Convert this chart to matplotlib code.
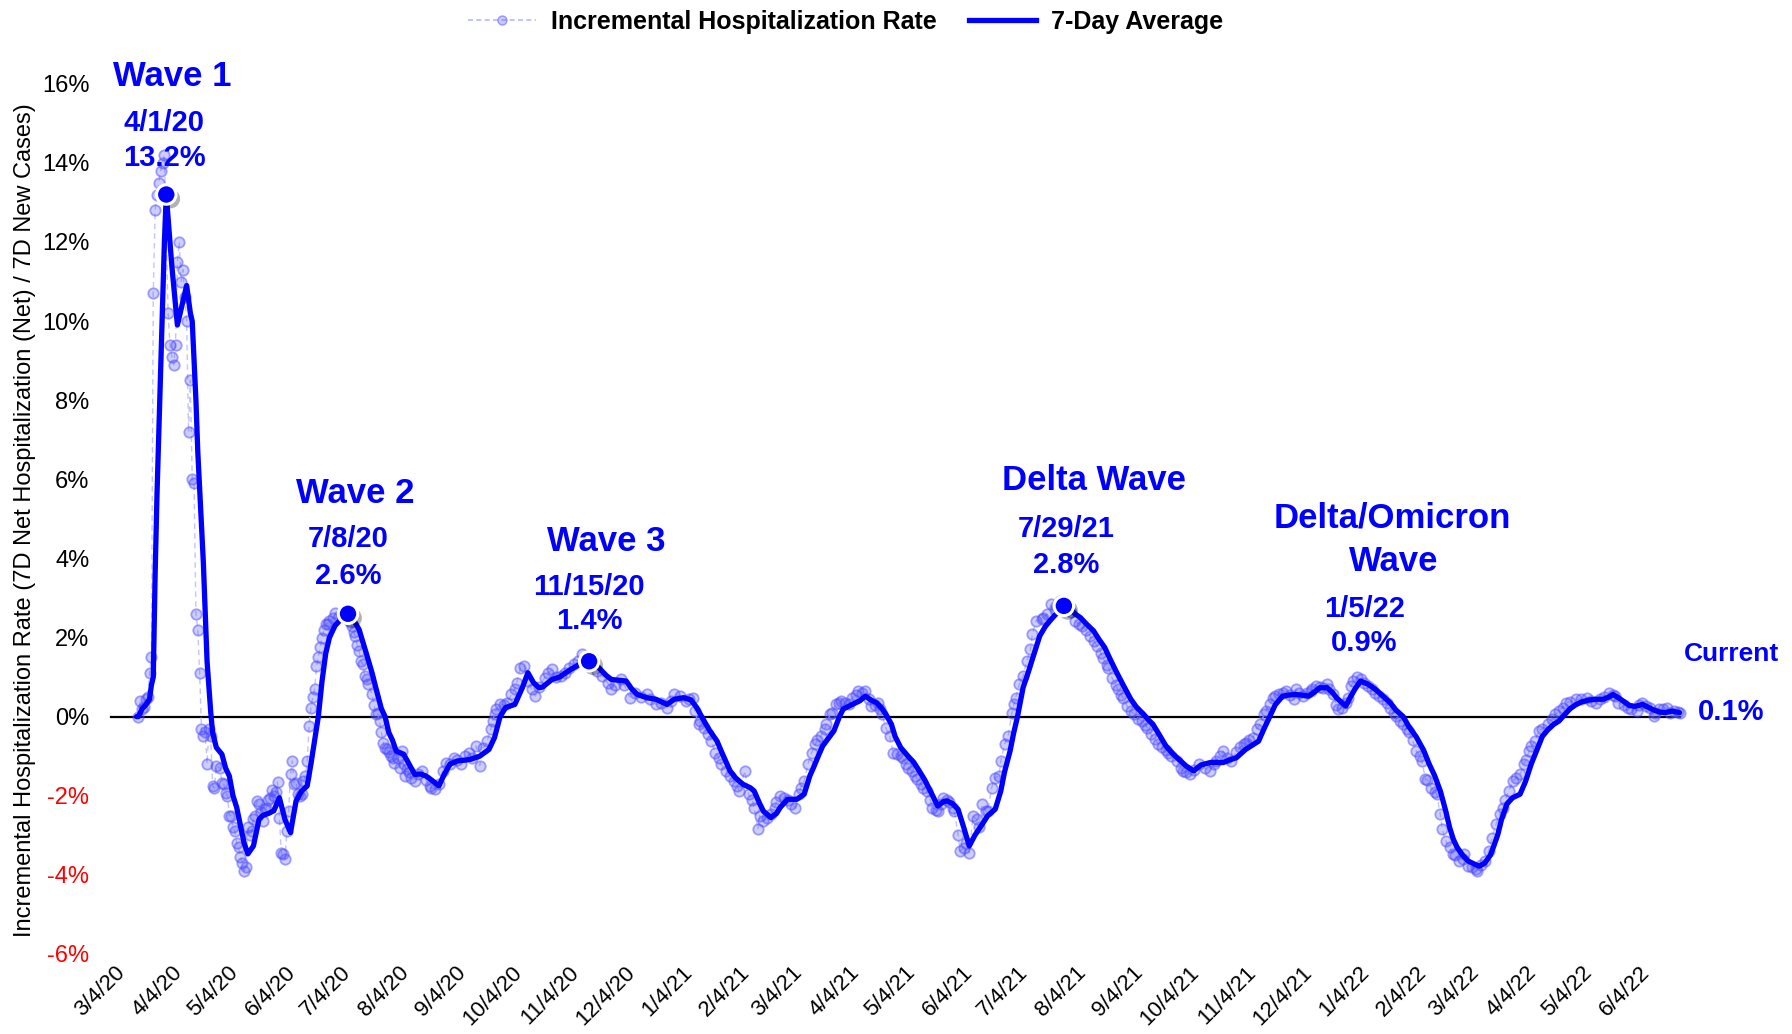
import matplotlib
matplotlib.use("Agg")
import matplotlib.pyplot as plt
import matplotlib.patheffects as pe
from matplotlib import font_manager
from matplotlib.lines import Line2D
import pandas as pd

# ---------------- data ----------------
START = "2020-03-04"

# 7-day average: days since 3/4/20 and value in %
avg_days = [12, 13, 15, 17, 19, 20, 21, 22, 23, 24, 25, 26, 27, 28, 31, 34, 37, 39, 41, 42, 44, 45,
            47, 48, 50, 52, 53, 55, 58, 60, 62, 64, 66, 68, 70, 72, 75, 78, 80, 83, 86, 89, 92, 95,
            98, 101, 104, 106, 108, 110, 112, 114, 116, 119, 122, 126, 129, 132, 136, 139, 141, 144,
            146, 148, 150, 152, 156, 158, 162, 165, 168, 171, 175, 178, 181, 185, 189, 192, 197, 200,
            202, 205, 208, 211, 216, 220, 223, 226, 229, 231, 236, 240, 245, 250, 256, 259, 262, 265,
            268, 272, 276, 279, 282, 287, 292, 298, 302, 307, 311, 314, 318, 321, 325, 328, 332, 335,
            339, 343, 345, 348, 350, 354, 357, 359, 363, 368, 372, 375, 377, 380, 382, 385, 388, 391,
            393, 398, 402, 405, 408, 411, 414, 416, 419, 421, 424, 428, 431, 434, 437, 440, 444, 447,
            449, 452, 455, 458, 461, 464, 468, 471, 475, 478, 480, 483, 485, 487, 490, 493, 495, 499,
            502, 505, 510, 512, 515, 518, 521, 524, 528, 531, 534, 537, 540, 544, 548, 551, 555, 558,
            560, 564, 567, 571, 575, 578, 582, 586, 591, 598, 601, 605, 610, 617, 620, 623, 626, 630,
            634, 637, 641, 644, 647, 650, 654, 657, 659, 662, 664, 666, 669, 672, 676, 680, 684, 688,
            691, 695, 698, 702, 706, 709, 712, 715, 718, 720, 722, 724, 727, 730, 733, 736, 739, 742,
            744, 746, 748, 751, 754, 758, 761, 764, 767, 770, 773, 776, 779, 782, 785, 788, 791, 795,
            799, 803, 806, 808, 811, 814, 817, 820, 824, 827, 830, 833, 836, 840, 844]
avg_vals = [0.0, 0.0, 0.2, 0.3, 0.45, 0.8, 1.0, 3.6, 5.6, 7.2, 8.8, 10.4, 12.0, 13.2, 11.4, 9.9, 10.5,
            10.9, 10.2, 10.0, 8.0, 6.7, 4.8, 3.9, 1.4, 0.1, -0.4, -0.78, -0.95, -1.3, -1.5, -2.0, -2.3,
            -2.75, -3.2, -3.47, -3.27, -2.6, -2.5, -2.45, -2.38, -2.05, -2.6, -2.93, -2.13, -1.88,
            -1.75, -1.2, -0.6, 0.0, 0.9, 1.6, 2.0, 2.3, 2.45, 2.6, 2.45, 2.2, 1.58, 1.1, 0.73, 0.2,
            0.0, -0.4, -0.6, -0.87, -0.95, -1.12, -1.46, -1.45, -1.5, -1.6, -1.75, -1.45, -1.2, -1.12,
            -1.1, -1.08, -1.0, -0.9, -0.83, -0.53, 0.0, 0.23, 0.31, 0.73, 1.11, 0.86, 0.73, 0.75, 0.94,
            1.0, 1.16, 1.3, 1.45, 1.35, 1.2, 1.05, 0.94, 0.92, 0.9, 0.7, 0.56, 0.48, 0.44, 0.31, 0.44,
            0.48, 0.42, 0.23, -0.11, -0.35, -0.62, -0.95, -1.37, -1.55, -1.71, -1.8, -1.88, -2.2,
            -2.39, -2.55, -2.45, -2.3, -2.09, -2.09, -1.96, -1.5, -1.29, -0.95, -0.74, -0.55, -0.36,
            0.0, 0.19, 0.31, 0.4, 0.52, 0.42, 0.35, 0.2, 0.06, -0.19, -0.5, -0.78, -1.0, -1.15, -1.37,
            -1.6, -1.88, -2.26, -2.15, -2.13, -2.2, -2.35, -2.8, -3.27, -3.0, -2.72, -2.5, -2.34,
            -1.88, -1.4, -0.87, -0.4, 0.0, 0.73, 1.15, 1.45, 2.04, 2.28, 2.45, 2.71, 2.8, 2.75, 2.6,
            2.5, 2.35, 2.17, 1.95, 1.75, 1.45, 1.16, 0.8, 0.45, 0.25, 0.06, -0.1, -0.19, -0.5, -0.74,
            -0.95, -1.12, -1.25, -1.37, -1.22, -1.16, -1.16, -1.1, -1.04, -0.83, -0.62, -0.3, 0.0, 0.3,
            0.52, 0.55, 0.56, 0.54, 0.52, 0.62, 0.73, 0.73, 0.6, 0.48, 0.35, 0.27, 0.45, 0.7, 0.9,
            0.82, 0.69, 0.52, 0.35, 0.17, 0.0, -0.25, -0.51, -0.85, -1.2, -1.5, -1.88, -2.4, -2.8,
            -3.1, -3.3, -3.5, -3.65, -3.72, -3.78, -3.7, -3.5, -3.25, -2.98, -2.6, -2.2, -2.05, -1.96,
            -1.63, -1.2, -0.85, -0.5, -0.33, -0.2, -0.11, 0.05, 0.2, 0.3, 0.37, 0.42, 0.44, 0.44, 0.5,
            0.56, 0.48, 0.38, 0.28, 0.26, 0.31, 0.24, 0.17, 0.12, 0.1, 0.14, 0.1]

# daily incremental hospitalization rate: days since 3/4/20 and value in %
daily_days = [13, 14, 15, 16, 17, 18, 19, 20, 21, 22, 23, 24, 25, 26, 27, 29, 30, 31, 32, 33, 34, 35,
              36, 37, 38, 39, 40, 41, 42, 43, 44, 45, 46, 47, 48, 49, 50, 51, 52, 53, 54, 55, 57, 58,
              59, 60, 61, 62, 63, 64, 65, 66, 67, 68, 69, 70, 71, 72, 73, 74, 75, 76, 77, 78, 79, 80,
              81, 82, 83, 84, 85, 86, 87, 88, 89, 90, 91, 92, 93, 94, 95, 96, 97, 98, 99, 100, 101,
              102, 103, 104, 105, 106, 107, 108, 109, 110, 111, 112, 113, 114, 115, 116, 118, 119,
              121, 123, 125, 127, 128, 129, 130, 131, 132, 133, 134, 135, 136, 137, 139, 140, 141,
              142, 143, 144, 145, 146, 147, 148, 149, 150, 151, 153, 154, 155, 156, 157, 158, 159,
              160, 162, 164, 166, 168, 170, 171, 173, 175, 177, 179, 181, 183, 185, 187, 189, 191,
              193, 195, 197, 199, 201, 203, 204, 205, 206, 208, 210, 212, 214, 216, 217, 219, 221,
              223, 225, 227, 229, 232, 234, 236, 238, 241, 243, 245, 248, 250, 252, 255, 258, 260,
              263, 266, 268, 270, 273, 275, 278, 281, 284, 287, 289, 292, 295, 298, 300, 302, 305,
              308, 310, 312, 313, 315, 316, 318, 320, 322, 324, 326, 327, 330, 332, 334, 336, 337,
              340, 342, 344, 345, 347, 348, 350, 352, 354, 356, 357, 359, 361, 363, 365, 367, 369,
              370, 372, 374, 376, 378, 379, 381, 383, 384, 386, 387, 389, 391, 392, 394, 396, 398,
              400, 401, 403, 405, 407, 408, 410, 412, 413, 414, 416, 418, 420, 422, 424, 425, 427,
              428, 430, 432, 433, 435, 436, 438, 440, 441, 443, 444, 446, 447, 449, 450, 452, 453,
              455, 456, 458, 459, 461, 463, 465, 466, 468, 470, 471, 473, 475, 477, 478, 480, 482,
              484, 485, 486, 488, 490, 492, 494, 495, 497, 500, 501, 503, 505, 507, 508, 510, 512,
              514, 516, 518, 520, 522, 524, 526, 528, 530, 532, 533, 535, 536, 538, 540, 541, 543,
              544, 546, 548, 550, 552, 554, 556, 557, 559, 561, 563, 565, 567, 568, 570, 573, 575,
              576, 578, 580, 582, 585, 588, 591, 593, 594, 596, 598, 600, 602, 605, 607, 609, 610,
              612, 614, 616, 618, 620, 621, 623, 625, 626, 628, 630, 632, 634, 636, 637, 639, 641,
              643, 645, 646, 648, 650, 652, 654, 655, 657, 659, 660, 662, 664, 665, 667, 668, 670,
              672, 674, 676, 678, 680, 682, 684, 686, 688, 690, 691, 693, 695, 697, 698, 700, 702,
              704, 705, 707, 708, 710, 712, 713, 715, 716, 718, 720, 722, 723, 725, 727, 728, 730,
              732, 734, 735, 737, 739, 741, 743, 745, 747, 749, 750, 752, 754, 756, 758, 760, 761,
              763, 764, 766, 768, 770, 773, 775, 777, 779, 781, 783, 785, 788, 791, 794, 796, 799,
              801, 803, 806, 808, 809, 811, 814, 816, 818, 821, 822, 824, 826, 828, 830, 831, 833,
              835, 837, 839, 841, 843, 844]
daily_vals = [0.0, 0.4, 0.2, 0.25, 0.45, 0.5, 1.1, 1.5, 10.7, 12.8, 13.2, 13.5, 13.8, 14.0, 14.2, 10.2,
              9.4, 9.1, 8.9, 9.4, 11.5, 12.0, 11.0, 11.3, 10.6, 10.0, 7.2, 8.5, 6.0, 5.9, 2.6, 2.2,
              1.1, -0.3, -0.5, -0.4, -1.2, -0.3, -0.5, -1.75, -1.8, -1.24, -1.3, -1.67, -1.7, -1.92,
              -2.0, -2.5, -2.5, -2.8, -2.9, -3.2, -3.3, -3.56, -3.7, -3.9, -3.8, -2.8, -3.0, -2.9,
              -2.6, -2.5, -2.13, -2.2, -2.4, -2.64, -2.34, -2.3, -2.1, -2.05, -1.86, -2.0, -1.9,
              -1.65, -2.55, -3.45, -3.48, -3.6, -2.9, -2.38, -1.46, -1.12, -1.7, -1.67, -1.96, -2.0,
              -1.96, -1.63, -1.5, -1.12, -0.24, 0.23, 0.5, 0.69, 1.28, 1.5, 1.75, 2.0, 2.2, 2.34, 2.35,
              2.42, 2.5, 2.63, 2.55, 2.58, 2.5, 2.4, 2.29, 2.15, 2.04, 1.8, 1.66, 1.4, 1.32, 1.03,
              0.95, 0.82, 0.56, 0.3, 0.06, 0.08, -0.11, -0.4, -0.66, -0.8, -0.83, -0.9, -1.0, -1.05,
              -1.16, -1.04, -1.3, -0.87, -1.2, -1.5, -1.33, -1.4, -1.55, -1.63, -1.45, -1.37, -1.6,
              -1.75, -1.8, -1.84, -1.7, -1.37, -1.16, -1.2, -1.04, -1.1, -1.2, -1.0, -0.91, -1.05,
              -0.74, -1.24, -0.8, -0.62, -0.32, -0.1, 0.06, 0.2, 0.31, 0.3, 0.35, 0.56, 0.7, 0.86,
              1.24, 1.28, 0.9, 0.69, 0.52, 0.75, 0.98, 1.1, 1.2, 1.0, 1.03, 1.1, 1.24, 1.32, 1.4,
              1.58, 1.5, 1.35, 1.16, 1.03, 0.85, 0.69, 0.8, 0.94, 0.8, 0.48, 0.6, 0.5, 0.56, 0.45,
              0.31, 0.35, 0.23, 0.4, 0.56, 0.52, 0.4, 0.45, 0.48, 0.14, -0.19, -0.11, -0.28, -0.45,
              -0.62, -0.91, -1.05, -1.2, -1.37, -1.5, -1.63, -1.75, -1.88, -1.37, -1.96, -2.1, -2.3,
              -2.85, -2.5, -2.64, -2.55, -2.47, -2.3, -2.17, -2.0, -2.05, -2.1, -2.2, -2.3, -1.96,
              -1.8, -1.63, -1.2, -0.91, -0.7, -0.6, -0.49, -0.3, -0.19, 0.06, 0.1, 0.31, 0.35, 0.4,
              0.35, 0.31, 0.48, 0.55, 0.65, 0.6, 0.65, 0.45, 0.27, 0.3, 0.35, 0.2, 0.06, -0.28, -0.49,
              -0.91, -0.95, -1.0, -1.04, -1.2, -1.29, -1.37, -1.5, -1.58, -1.7, -1.8, -1.88, -2.1,
              -2.3, -2.35, -2.39, -2.2, -2.05, -2.1, -2.15, -2.3, -2.39, -3.0, -3.4, -3.31, -3.2,
              -3.44, -2.51, -2.6, -2.8, -2.22, -2.39, -2.39, -1.8, -1.54, -1.5, -1.12, -0.7, -0.49,
              0.1, 0.31, 0.48, 0.82, 1.03, 1.4, 1.7, 2.08, 2.42, 2.46, 2.5, 2.59, 2.84, 2.7, 2.8,
              2.92, 2.85, 2.7, 2.65, 2.42, 2.35, 2.29, 2.2, 2.04, 1.9, 1.79, 1.6, 1.49, 1.3, 1.24,
              0.98, 0.8, 0.69, 0.55, 0.48, 0.27, 0.15, 0.06, -0.05, -0.11, -0.2, -0.28, -0.45, -0.57,
              -0.7, -0.78, -0.85, -0.91, -1.0, -1.12, -1.3, -1.37, -1.4, -1.46, -1.35, -1.2, -1.3,
              -1.37, -1.2, -1.12, -1.0, -0.87, -1.05, -1.12, -0.9, -0.78, -0.7, -0.66, -0.6, -0.53,
              -0.3, -0.19, 0.06, 0.15, 0.31, 0.48, 0.52, 0.56, 0.6, 0.65, 0.55, 0.44, 0.69, 0.6, 0.52,
              0.6, 0.65, 0.7, 0.78, 0.75, 0.73, 0.82, 0.7, 0.56, 0.3, 0.19, 0.23, 0.35, 0.48, 0.78,
              0.9, 0.99, 0.94, 0.85, 0.78, 0.7, 0.61, 0.52, 0.44, 0.35, 0.23, 0.1, 0.02, -0.1, -0.19,
              -0.3, -0.4, -0.6, -0.87, -1.0, -1.12, -1.58, -1.6, -1.8, -1.9, -1.96, -2.47, -2.85,
              -3.15, -3.3, -3.48, -3.5, -3.65, -3.6, -3.48, -3.78, -3.8, -3.85, -3.9, -3.75, -3.65,
              -3.4, -3.06, -2.72, -2.47, -2.3, -2.1, -1.88, -1.63, -1.55, -1.46, -1.2, -1.1, -0.87,
              -0.75, -0.62, -0.36, -0.3, -0.19, -0.05, 0.06, 0.15, 0.23, 0.35, 0.38, 0.44, 0.45, 0.48,
              0.4, 0.35, 0.45, 0.5, 0.61, 0.55, 0.52, 0.35, 0.3, 0.23, 0.2, 0.14, 0.3, 0.35, 0.28,
              0.23, 0.02, 0.1, 0.19, 0.2, 0.23, 0.1, 0.14, 0.12, 0.1]

peak_dates = ["2020-04-01", "2020-07-08", "2020-11-15", "2021-07-29"]
peak_vals = [13.2, 2.6, 1.4, 2.8]

y_ticks = [-6, -4, -2, 0, 2, 4, 6, 8, 10, 12, 14, 16]
tick_months = pd.date_range("2020-03-01", "2022-06-01", freq="MS")

legend_labels = ["Incremental Hospitalization Rate", "7-Day Average"]
y_title = "Incremental Hospitalization Rate (7D Net Hospitalization (Net) / 7D New Cases)"

# ---------------- fonts ----------------
names = {f.name for f in font_manager.fontManager.ttflist}
NARROW = "Liberation Sans Narrow" if "Liberation Sans Narrow" in names else "Liberation Sans"
REG = "Liberation Sans" if "Liberation Sans" in names else "DejaVu Sans"
plt.rcParams["font.family"] = [NARROW, "DejaVu Sans"]

BLUE = "#0000ff"

# ---------------- build ----------------
start = pd.Timestamp(START)
avg_dates = [start + pd.Timedelta(days=d) for d in avg_days]
daily_dates = [start + pd.Timedelta(days=d) for d in daily_days]
pk_dates = pd.to_datetime(peak_dates)
tick_dates = [m + pd.Timedelta(days=3) for m in tick_months]

fig = plt.figure(figsize=(17.92, 10.34), dpi=100)
ax = fig.add_axes([0.0638, 0.0774, 0.8776, 0.8416])
ax.set_xlim(start, pd.Timestamp("2022-06-30"))
ax.set_ylim(-6, 16)
for s in ax.spines.values():
    s.set_visible(False)

# zero line
ax.plot([start - pd.Timedelta(days=2), avg_dates[-1]], [0, 0], color="black", lw=1.6, zorder=1,
        clip_on=False)

# daily points
ax.plot(daily_dates, daily_vals, linestyle=(0, (4, 3)), color="#c4c4ff", lw=1.0,
        marker="o", ms=7.5, mfc=(0.3, 0.3, 1.0, 0.28), mec=(0.3, 0.3, 1.0, 0.5), mew=1.3,
        zorder=2)
# 7-day average
ax.plot(avg_dates, avg_vals, color=BLUE, lw=3.8, zorder=3, solid_joinstyle="round",
        solid_capstyle="round")
# peak markers
ax.plot(pk_dates, peak_vals, linestyle="none", marker="o", ms=14, mfc=BLUE, mec="white",
        mew=2.2, zorder=5,
        path_effects=[pe.SimplePatchShadow(offset=(3, -3), shadow_rgbFace="black", alpha=0.3),
                      pe.Normal()])

# ticks
ax.set_xticks(tick_dates)
ax.set_xticklabels([f"{d.month}/{d.day}/{d.year % 100}" for d in tick_dates])
ax.tick_params(axis="x", length=0, pad=6, labelsize=16)
for lab in ax.get_xticklabels():
    lab.set_rotation(45)
    lab.set_ha("right")
    lab.set_va("top")
    lab.set_rotation_mode("anchor")

ax.set_yticks(y_ticks)
ax.set_yticklabels([f"{v}%" for v in y_ticks])
ax.tick_params(axis="y", length=0, pad=18, labelsize=17)
for v, lab in zip(y_ticks, ax.get_yticklabels()):
    lab.set_color("red" if v < 0 else "black")

ax.set_ylabel(y_title, fontsize=17, family=[REG, "DejaVu Sans"])
ax.yaxis.set_label_coords(-0.05, 0.499)

# legend
h1 = Line2D([], [], linestyle=(0, (3, 2)), color="#b8b8ff", lw=1.2, marker="o", ms=6.5,
            mfc=(0.3, 0.3, 1.0, 0.3), mec=(0.3, 0.3, 1.0, 0.5))
h2 = Line2D([], [], color=BLUE, lw=3.8)
fig.legend([h1, h2], legend_labels, loc="upper center", bbox_to_anchor=(0.472, 1.012), ncol=2,
           frameon=False, prop={"family": [NARROW, "DejaVu Sans"], "weight": "bold", "size": 18},
           handlelength=2.7, columnspacing=1.3, handletextpad=0.6)

# annotations
def label(day_str, y, text, size):
    ax.text(pd.Timestamp(day_str), y, text, ha="center", va="center", color=BLUE,
            fontweight="bold", fontsize=size, clip_on=False)

label("2020-04-04", 16.18, "Wave 1", 25)
label("2020-03-31", 15.0, "4/1/20", 21)
label("2020-03-31", 14.13, "13.2%", 21)
label("2020-07-12", 5.64, "Wave 2", 25)
label("2020-07-08", 4.48, "7/8/20", 21)
label("2020-07-08", 3.55, "2.6%", 21)
label("2020-11-24", 4.42, "Wave 3", 25)
label("2020-11-15", 3.29, "11/15/20", 21)
label("2020-11-15", 2.43, "1.4%", 21)
label("2021-08-14", 5.98, "Delta Wave", 25)
label("2021-07-30", 4.74, "7/29/21", 21)
label("2021-07-30", 3.84, "2.8%", 21)
label("2022-01-22", 5.03, "Delta/Omicron", 25)
label("2022-01-23", 3.93, "Wave", 25)
label("2022-01-07", 2.72, "1/5/22", 21)
label("2022-01-07", 1.85, "0.9%", 21)
label("2022-07-24", 1.59, "Current", 19)
label("2022-07-24", 0.12, "0.1%", 21)

fig.savefig("out.png", dpi=100)
